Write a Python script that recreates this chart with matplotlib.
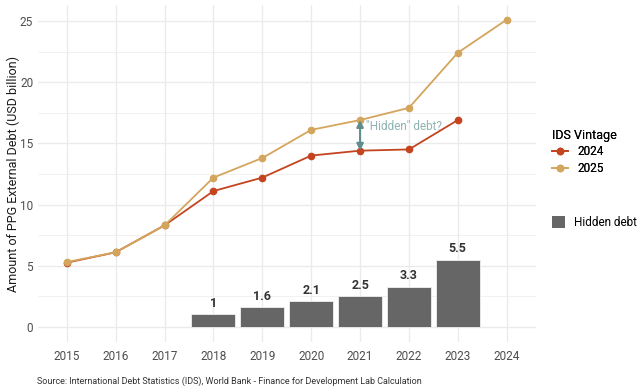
import matplotlib
matplotlib.use("Agg")
import matplotlib.pyplot as plt
from matplotlib.lines import Line2D
from matplotlib.patches import Patch

years = [2015, 2016, 2017, 2018, 2019, 2020, 2021, 2022, 2023, 2024]
vintage_2025 = [5.3, 6.1, 8.3, 12.2, 13.8, 16.1, 16.9, 17.9, 22.4, 25.1]
years_2024 = [2015, 2016, 2017, 2018, 2019, 2020, 2021, 2022, 2023]
vintage_2024 = [5.25, 6.1, 8.3, 11.1, 12.2, 14.0, 14.4, 14.5, 16.9]
bar_years = [2018, 2019, 2020, 2021, 2022, 2023]
hidden_debt = [1.06, 1.6, 2.1, 2.5, 3.3, 5.5]
bar_labels = ["1", "1.6", "2.1", "2.5", "3.3", "5.5"]

plt.rcParams['font.family'] = ['Roboto', 'DejaVu Sans']

c24 = "#c4441f"
c25 = "#d4a55c"
cbar = "#666666"
grid_c = "#ebebeb"
tick_c = "#4d4d4d"

fig = plt.figure(figsize=(6.44, 3.92), dpi=100)
ax = fig.add_axes([38/644, 1-342/392, (536-38)/644, (342-5)/392])

ax.set_xlim(2014.41, 2024.6)
ax.set_ylim(-1.23, 26.3)

# grid
for y in [2.5, 7.5, 12.5, 17.5, 22.5]:
    ax.axhline(y, color=grid_c, lw=0.5, zorder=0)
for y in [0, 5, 10, 15, 20, 25]:
    ax.axhline(y, color=grid_c, lw=1.0, zorder=0)
for x in years:
    ax.axvline(x, color=grid_c, lw=1.0, zorder=0)

ax.bar(bar_years, hidden_debt, width=0.9, color=cbar, edgecolor="#f0f0f0", lw=0.6, zorder=2)
for x, h, lab in zip(bar_years, hidden_debt, bar_labels):
    ax.text(x, h + 0.35, lab, ha="center", va="bottom", fontsize=9, fontweight="bold", color="#333333", zorder=3)

ax.plot(years, vintage_2025, color=c25, lw=1.3, marker="o", ms=4.5, zorder=4)
ax.plot(years_2024, vintage_2024, color=c24, lw=1.3, marker="o", ms=4.5, zorder=3)

ax.annotate("", xy=(2021, 14.4), xytext=(2021, 16.9),
            arrowprops=dict(arrowstyle="<|-|>", color="#5f8d8e", lw=1.5,
                            mutation_scale=10, shrinkA=0, shrinkB=0), zorder=5)
ax.text(2021.12, 16.35, "\"Hidden\" debt?", color="#8fb3b3", fontsize=8.5, va="center", ha="left")

for s in ax.spines.values():
    s.set_visible(False)
ax.set_xticks(years)
ax.set_xticklabels([str(y) for y in years])
ax.set_yticks([0, 5, 10, 15, 20, 25])
ax.tick_params(length=0, colors=tick_c, labelsize=8.5)
ax.tick_params(axis="x", pad=6)
ax.set_ylabel("Amount of PPG External Debt (USD billion)", fontsize=9, color="#1a1a1a")
ax.yaxis.set_label_coords(-(38-20)/498, 0.5)

h1 = [Line2D([0], [0], color=c24, lw=1.3, marker="o", ms=4.5),
      Line2D([0], [0], color=c25, lw=1.3, marker="o", ms=4.5)]
leg1 = fig.legend(h1, ["2024", "2025"], title="IDS Vintage", loc="upper left",
                  bbox_to_anchor=(541/644, 1-118/392), frameon=False, fontsize=8.5,
                  title_fontsize=9, handlelength=1.4, labelspacing=0.3, alignment="left")
fig.add_artist(leg1)
h2 = [Patch(facecolor=cbar, edgecolor="none")]
fig.legend(h2, ["Hidden debt"], loc="upper left", bbox_to_anchor=(541/644, 1-205/392),
           frameon=False, fontsize=8.5, handlelength=1.1, handleheight=1.3)

fig.text(37/644, 1-381/392, "Source: International Debt Statistics (IDS), World Bank - Finance for Development Lab Calculation",
         fontsize=6.5, color="#333333", va="center", ha="left")

fig.savefig("out.png", dpi=100)
